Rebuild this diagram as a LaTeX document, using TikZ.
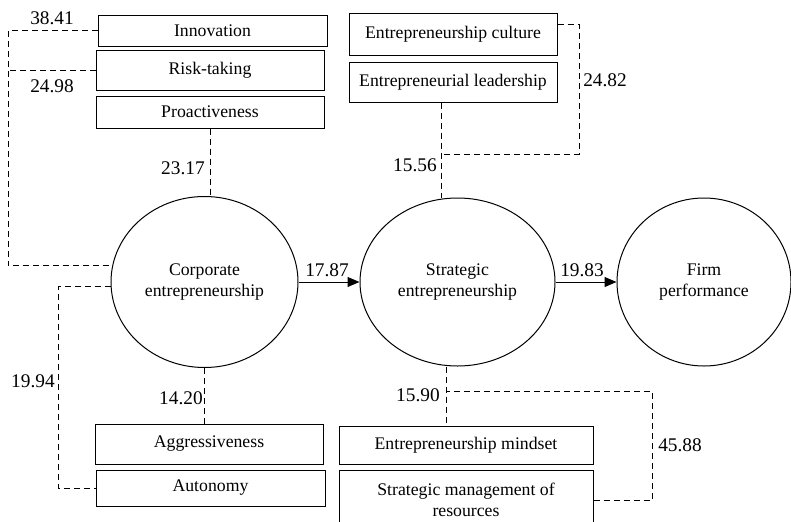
\documentclass[tikz,border=0pt]{standalone}
\usepackage{fontspec}
\setmainfont{Liberation Serif}
\usetikzlibrary{arrows.meta,shapes.geometric}
\tikzset{
  box/.style={draw, inner sep=0pt, align=center, line width=0.75pt},
  latent/.style={draw, ellipse, inner sep=0pt, align=center, line width=0.75pt},
  link/.style={line width=0.75pt, dash pattern=on 4.5pt off 3pt},
  effect/.style={line width=0.75pt, -{Triangle[length=9pt,width=7.5pt]}},
  num/.style={inner sep=0pt, font=\fontsize{14.5}{16}\selectfont}
}
\begin{document}
\begin{tikzpicture}[x=0.75pt, y=-0.75pt, font=\fontsize{13.3}{16}\selectfont]
\useasboundingbox (0,0) rectangle (791,521);
% latent constructs
\node[latent, minimum width=140.25pt, minimum height=128.25pt] (corp) at (204.5,282) {Corporate\\entrepreneurship};
\node[latent, minimum width=146.25pt, minimum height=126pt] (strat) at (457.5,282) {Strategic\\entrepreneurship};
\node[latent, minimum width=130.5pt, minimum height=126pt] (firm) at (704,282) {Firm\\performance};
% dimensions of corporate entrepreneurship
\node[box, minimum width=171.75pt, minimum height=23.25pt] (innov) at (212.5,30.5) {Innovation};
\node[box, minimum width=171pt, minimum height=30pt] (risk) at (210,70) {Risk-taking};
\node[box, minimum width=171pt, minimum height=24pt] (proact) at (210,112) {Proactiveness};
\node[box, minimum width=171pt, minimum height=30pt] (aggr) at (209,444) {Aggressiveness};
\node[box, minimum width=171.75pt, minimum height=27pt] (auton) at (210.5,488) {Autonomy};
% dimensions of strategic entrepreneurship
\node[box, minimum width=156pt, minimum height=31.5pt] (culture) at (453,34) {Entrepreneurship culture};
\node[box, minimum width=156pt, minimum height=30pt] (leader) at (453,82) {Entrepreneurial leadership};
\node[box, minimum width=190.5pt, minimum height=28.5pt] (mindset) at (466,445) {Entrepreneurship mindset};
\node[box, minimum width=190.5pt, minimum height=45pt] (resman) at (466,500) {Strategic management of\\resources};
% corners of the dashed links
\coordinate (lt) at (8,0);
\coordinate (lb) at (58,0);
\coordinate (rt) at (579,0);
\coordinate (rb) at (652,0);
\coordinate (sx) at (441,0);
\coordinate (sy) at (446,0);
\coordinate (sj) at (441,154);
\coordinate (sk) at (446,391);
% structural paths
\draw[effect] (corp) -- (strat);
\draw[effect] (strat) -- (firm);
% loadings
\draw[link] (innov.west) -- (innov.west -| lt) |- (corp.170);
\draw[link] (risk.west) -- (risk.west -| lt);
\draw[link] (proact.south) -- (proact.south |- corp.north);
\draw[link] (corp.183) -- (corp.183 -| lb) |- (auton.west);
\draw[link] (corp.south) -- (corp.south |- aggr.north);
\draw[link] (culture.5) -- (culture.5 -| rt) |- (sj);
\draw[link] (leader.south -| sx) -- (strat.north -| sx);
\draw[link] (strat.south -| sy) -- (mindset.north -| sy);
\draw[link] (resman.east) -- (resman.east -| rb) |- (sk);
% coefficients
\node[num] (c3841) at (52,18) {38.41};
\node[num] (c2498) at (52,86) {24.98};
\node[num, anchor=east] (c2317) at (205,168) {23.17};
\node[num] (c1787) at (327,270) {17.87};
\node[num] (c1983) at (582,270) {19.83};
\node[num, anchor=east] (c1994) at (55,381) {19.94};
\node[num, anchor=east] (c1420) at (203,398) {14.20};
\node[num, anchor=west] (c2482) at (583,80) {24.82};
\node[num, anchor=east] (c1556) at (437,165) {15.56};
\node[num, anchor=east] (c1590) at (440,395) {15.90};
\node[num, anchor=west] (c4588) at (658,445) {45.88};
\end{tikzpicture}
\end{document}
